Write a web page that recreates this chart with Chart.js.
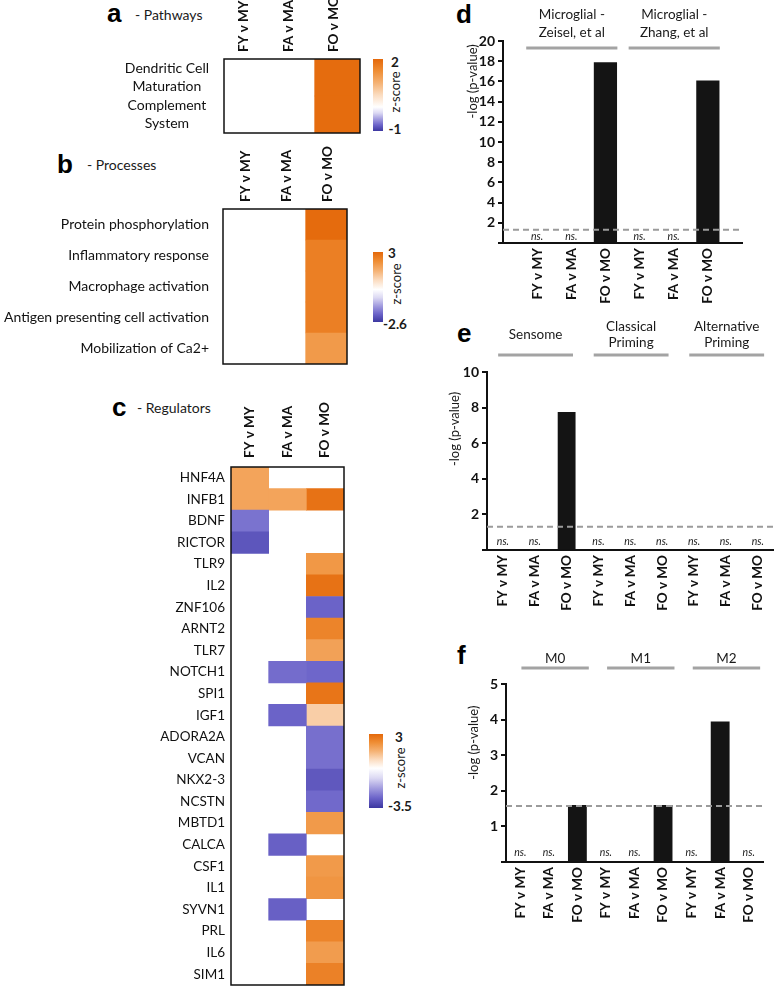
<!DOCTYPE html>
<html><head><meta charset="utf-8">
<script src="https://cdn.jsdelivr.net/npm/chart.js@4.4.1/dist/chart.umd.min.js"></script>
<style>
html,body{margin:0;padding:0;background:#fff;}
body{width:779px;height:986px;position:relative;overflow:hidden;font-family:Lato,"DejaVu Sans",sans-serif;color:#1a1a1a;}
canvas{position:absolute;}
.t{position:absolute;white-space:nowrap;line-height:1;}
.L{font-family:"Liberation Sans",Arial,sans-serif;font-weight:bold;font-size:26px;color:#000;}
.s{font-size:14px;}
.cb{position:absolute;}
.cl{position:absolute;font-size:13.5px;font-weight:bold;transform:translate(-50%,-50%);white-space:nowrap;}
.zs{position:absolute;font-size:13px;transform:translate(-50%,-50%) rotate(-90deg);white-space:nowrap;}
</style></head>
<body>
<div class="t L" style="left:107px;top:0px;">a</div>
<div class="t s" style="left:135px;top:8px;">- Pathways</div>
<div class="t L" style="left:57px;top:151px;">b</div>
<div class="t s" style="left:87px;top:158px;">- Processes</div>
<div class="t L" style="left:112px;top:394px;">c</div>
<div class="t s" style="left:137px;top:401px;">- Regulators</div>
<div class="t L" style="left:456px;top:1px;">d</div>
<div class="t L" style="left:457px;top:320px;">e</div>
<div class="t L" style="left:457px;top:642px;">f</div>

<div id="cbA" class="cb" style="left:373px;top:59px;width:10px;height:72px;"></div>
<div class="cl" style="left:395px;top:62px;">2</div>
<div class="zs" style="left:395px;top:92px;">z-score</div>
<div class="cl" style="left:395px;top:129px;">-1</div>

<div id="cbB" class="cb" style="left:373px;top:252px;width:10px;height:70px;"></div>
<div class="cl" style="left:392px;top:253px;">3</div>
<div class="zs" style="left:396px;top:284px;">z-score</div>
<div class="cl" style="left:395px;top:324px;">-2.6</div>

<div id="cbC" class="cb" style="left:369px;top:734px;width:14px;height:74px;"></div>
<div class="cl" style="left:399px;top:737px;">3</div>
<div class="zs" style="left:400px;top:768px;">z-score</div>
<div class="cl" style="left:400px;top:806px;">-3.5</div>

<canvas id="ha" width="372" height="140" style="left:0;top:0;"></canvas>
<canvas id="hb" width="360" height="230" style="left:0;top:140px;"></canvas>
<canvas id="hc" width="360" height="606" style="left:0;top:380px;"></canvas>
<canvas id="bd" width="339" height="315" style="left:440px;top:0;"></canvas>
<canvas id="be" width="349" height="320" style="left:430px;top:315px;"></canvas>
<canvas id="bf" width="339" height="346" style="left:440px;top:640px;"></canvas>

<script>
// ---------------- DATA ----------------
const heatColumns = ['FY v MY', 'FA v MA', 'FO v MO'];

const pathwayRows = [['Dendritic Cell', 'Maturation'], ['Complement', 'System']];
const pathwayFY = [null, null];
const pathwayFA = [null, null];
const pathwayFO = [1.95, 1.95];

const processRows = ['Protein phosphorylation', 'Inflammatory response', 'Macrophage activation',
  'Antigen presenting cell activation', 'Mobilization of Ca2+'];
const processFY = [null, null, null, null, null];
const processFA = [null, null, null, null, null];
const processFO = [2.95, 2.55, 2.55, 2.55, 2.0];

const regulatorRows = ['HNF4A', 'INFB1', 'BDNF', 'RICTOR', 'TLR9', 'IL2', 'ZNF106', 'ARNT2', 'TLR7',
  'NOTCH1', 'SPI1', 'IGF1', 'ADORA2A', 'VCAN', 'NKX2-3', 'NCSTN', 'MBTD1', 'CALCA', 'CSF1', 'IL1',
  'SYVN1', 'PRL', 'IL6', 'SIM1'];
const regulatorFY = [1.8, 1.8, -2.4, -2.9, null, null, null, null, null, null, null, null, null, null,
  null, null, null, null, null, null, null, null, null, null];
const regulatorFA = [null, 1.8, null, null, null, null, null, null, null, -2.5, null, -2.65, null, null,
  null, null, null, -2.7, null, null, -2.7, null, null, null];
const regulatorFO = [null, 2.8, null, null, 2.05, 2.8, -2.65, 2.45, 1.85, -2.6, 2.75, 1.0, -2.45, -2.45,
  -2.85, -2.55, 2.0, null, 2.0, 2.1, null, 2.45, 1.95, 2.5];

const pathwayRange = [-1, 2];
const processRange = [-2.6, 3];
const regulatorRange = [-3.5, 3];

const barCategories = ['FY v MY', 'FA v MA', 'FO v MO'];

const microgliaGroups = [['Microglial -', 'Zeisel, et al'], ['Microglial -', 'Zhang, et al']];
const microgliaValues = [0, 0, 17.9, 0, 0, 16.1];
const microgliaThreshold = 1.3;

const primingGroups = [['Sensome'], ['Classical', 'Priming'], ['Alternative', 'Priming']];
const primingValues = [0, 0, 7.75, 0, 0, 0, 0, 0, 0];
const primingThreshold = 1.3;

const macrophageGroups = [['M0'], ['M1'], ['M2']];
const macrophageValues = [0, 0, 1.6, 0, 0, 1.6, 0, 3.95, 0];
const macrophageThreshold = 1.57;

const yTitle = '-log (p-value)';

// ---------------- COLOURS ----------------
const posStops = [[0, '#ffffff'], [0.25, '#fbdcc0'], [0.5, '#f5b274'], [0.75, '#ef8e35'], [1, '#e4680a']];
const negStops = [[0, '#ffffff'], [0.25, '#dcd9f3'], [0.5, '#a39ddf'], [0.75, '#6c64c9'], [1, '#3c37a0']];
function hex2rgb(h) { return [1, 3, 5].map(i => parseInt(h.substr(i, 2), 16)); }
function fromStops(stops, t) {
  for (let i = 1; i < stops.length; i++) {
    if (t <= stops[i][0]) {
      const [t0, c0] = stops[i - 1], [t1, c1] = stops[i];
      const f = (t - t0) / (t1 - t0);
      const a = hex2rgb(c0), b = hex2rgb(c1);
      return 'rgb(' + a.map((x, k) => Math.round(x + (b[k] - x) * f)).join(',') + ')';
    }
  }
  return stops[stops.length - 1][1];
}
function cmap(v, range) {
  if (v >= 0) return fromStops(posStops, Math.min(v / range[1], 1));
  return fromStops(negStops, Math.min(v / range[0], 1));
}
function gradientCss(range) {
  const span = range[1] - range[0];
  const parts = [];
  posStops.slice().reverse().forEach(([t, c]) => parts.push(c + ' ' + ((range[1] - t * range[1]) / span * 100).toFixed(1) + '%'));
  negStops.slice(1).forEach(([t, c]) => parts.push(c + ' ' + ((range[1] + t * -range[0]) / span * 100).toFixed(1) + '%'));
  return 'linear-gradient(to bottom,' + parts.join(',') + ')';
}
document.getElementById('cbA').style.background = gradientCss(pathwayRange);
document.getElementById('cbB').style.background = gradientCss(processRange);
document.getElementById('cbC').style.background = gradientCss(regulatorRange);

const FONT = 'Lato, "DejaVu Sans", sans-serif';

// ---------------- HEATMAPS ----------------
const framePlugin = {
  id: 'frame',
  afterDraw(chart) {
    const a = chart.chartArea, ctx = chart.ctx;
    ctx.save(); ctx.strokeStyle = '#111'; ctx.lineWidth = 1.5;
    ctx.strokeRect(a.left, a.top, a.right - a.left, a.bottom - a.top);
    ctx.restore();
  }
};

function heatmap(id, rows, cols, range, g) {
  const datasets = cols.map((vals, c) => ({
    data: vals.map(v => v == null ? null : [c, c + 1]),
    backgroundColor: vals.map(v => v == null ? 'rgba(0,0,0,0)' : cmap(v, range)),
    borderWidth: 0, grouped: false, categoryPercentage: 1, barPercentage: 1
  }));
  new Chart(document.getElementById(id), {
    type: 'bar',
    data: { labels: rows, datasets },
    options: {
      indexAxis: 'y', animation: false, responsive: false, events: [],
      layout: { padding: { top: 0, left: 0, right: g.right, bottom: g.bottom } },
      plugins: { legend: { display: false }, tooltip: { enabled: false } },
      scales: {
        x: {
          type: 'linear', position: 'top', min: 0, max: heatColumns.length,
          afterBuildTicks: ax => { ax.ticks = heatColumns.map((_, i) => ({ value: i + 0.5 })); },
          ticks: { autoSkip: false, maxRotation: 90, minRotation: 90, padding: g.colPad, labelOffset: g.colShift,
            callback: v => heatColumns[Math.floor(v)], font: { family: FONT, size: 13.5, weight: 'bold' }, color: '#111' },
          grid: { display: false, drawTicks: false }, border: { display: false },
          afterFit: s => { s.height = g.xH; s.paddingLeft = 0; s.paddingRight = 0; }
        },
        y: {
          type: 'category',
          ticks: { crossAlign: g.cross, padding: g.rowPad, autoSkip: false,
            font: { family: FONT, size: g.rowFont, lineHeight: 1.3 }, color: '#111' },
          grid: { display: false, drawTicks: false }, border: { display: false },
          afterFit: s => { s.width = g.yW; s.paddingTop = 0; s.paddingBottom = 0; }
        }
      }
    },
    plugins: [framePlugin]
  });
}

heatmap('ha', pathwayRows, [pathwayFY, pathwayFA, pathwayFO], pathwayRange,
  { right: 12, bottom: 7, xH: 59, yW: 224, cross: 'center', rowPad: 15, colPad: 7, colShift: 13, rowFont: 14 });
heatmap('hb', processRows, [processFY, processFA, processFO], processRange,
  { right: 13, bottom: 6, xH: 69, yW: 223, cross: 'near', rowPad: 14, colPad: 7, colShift: 18, rowFont: 14 });
heatmap('hc', regulatorRows, [regulatorFY, regulatorFA, regulatorFO], regulatorRange,
  { right: 16, bottom: 1, xH: 87, yW: 231, cross: 'near', rowPad: 6, colPad: 9, colShift: 16, rowFont: 13.5 });

// ---------------- BAR CHARTS ----------------
function barChart(id, groups, values, threshold, g) {
  const cats = [];
  groups.forEach(() => barCategories.forEach(c => cats.push(c)));
  const labels = g.padEnds ? [''].concat(cats, ['']) : cats;
  const data = g.padEnds ? [null].concat(values, [null]) : values;
  const extra = {
    id: 'extras',
    afterDatasetsDraw(chart) {
      const ctx = chart.ctx, xs = chart.scales.x, ys = chart.scales.y, a = chart.chartArea;
      const sp = xs.getPixelForValue(1) - xs.getPixelForValue(0);
      ctx.save();
      // threshold
      const ty = ys.getPixelForValue(threshold);
      ctx.strokeStyle = '#9b9b9b'; ctx.lineWidth = 2; ctx.setLineDash([6, 4]);
      ctx.beginPath(); ctx.moveTo(a.left, ty); ctx.lineTo(a.right, ty); ctx.stroke();
      ctx.setLineDash([]);
      // ns labels
      ctx.fillStyle = '#222'; ctx.font = 'italic 10.5px ' + FONT; ctx.textAlign = 'center'; ctx.textBaseline = 'alphabetic';
      data.forEach((v, i) => { if (v === 0) ctx.fillText('ns.', xs.getPixelForValue(i), a.bottom - g.nsGap); });
      // group headers
      const off = g.padEnds ? 1 : 0;
      const maxLines = Math.max(...groups.map(x => x.length));
      const lineY = a.top + g.lineDy;
      const blockC = lineY - g.textGap - (maxLines - 1) * g.lh / 2;
      groups.forEach((lines, k) => {
        const x0 = xs.getPixelForValue(off + k * 3) + g.lFrac * sp;
        const x1 = xs.getPixelForValue(off + k * 3 + 2) + g.rFrac * sp;
        ctx.strokeStyle = '#a3a3a3'; ctx.lineWidth = 3;
        ctx.beginPath(); ctx.moveTo(x0, lineY); ctx.lineTo(x1, lineY); ctx.stroke();
        ctx.fillStyle = '#1a1a1a'; ctx.font = '13.5px ' + FONT; ctx.textBaseline = 'middle';
        lines.forEach((t, j) => ctx.fillText(t, (x0 + x1) / 2, blockC + (j - (lines.length - 1) / 2) * g.lh));
      });
      // y title
      ctx.translate(g.titleX, a.top + g.titleFrac * (a.bottom - a.top));
      ctx.rotate(-Math.PI / 2);
      ctx.fillStyle = '#1a1a1a'; ctx.font = '13px ' + FONT; ctx.textBaseline = 'middle';
      ctx.fillText(yTitle, 0, 0);
      ctx.restore();
    }
  };
  new Chart(document.getElementById(id), {
    type: 'bar',
    data: { labels, datasets: [{ data, backgroundColor: '#141414', borderWidth: 0, barPercentage: g.barPct, categoryPercentage: 1 }] },
    options: {
      animation: false, responsive: false, events: [],
      layout: { padding: { top: g.top, right: g.right, left: 0, bottom: 0 } },
      plugins: { legend: { display: false }, tooltip: { enabled: false } },
      scales: {
        x: {
          offset: !g.padEnds,
          grid: { display: false, drawTicks: false },
          border: { display: true, color: '#111', width: 2 },
          ticks: { autoSkip: false, maxRotation: 90, minRotation: 90, padding: 5,
            font: { family: FONT, size: 13.5, weight: 'bold' }, color: '#111' },
          afterFit: s => { s.height = g.xH; }
        },
        y: {
          min: 0, max: g.ymax,
          ticks: { stepSize: g.step, padding: 3, callback: v => v === 0 ? '' : v,
            font: { family: FONT, size: 14, weight: 'bold' }, color: '#111' },
          grid: { drawOnChartArea: false, drawTicks: true, tickLength: 5, color: '#111', lineWidth: 2 },
          border: { display: true, color: '#111', width: 2 },
          afterFit: s => { s.width = g.yW; }
        }
      }
    },
    plugins: [extra]
  });
}

barChart('bd', microgliaGroups, microgliaValues, microgliaThreshold,
  { padEnds: true, barPct: 0.68, top: 41, right: 37, yW: 63, xH: 72, ymax: 20, step: 2,
    nsGap: 3, lineDy: 7, textGap: 15, lh: 18, lFrac: -0.32, rFrac: 0.35, titleX: 33, titleFrac: 0.2 });
barChart('be', primingGroups, primingValues, primingThreshold,
  { padEnds: false, barPct: 0.56, top: 57, right: 1, yW: 57, xH: 85, ymax: 10, step: 2,
    nsGap: 5, lineDy: -17, textGap: 12, lh: 16, lFrac: -0.15, rFrac: 0.2, titleX: 25, titleFrac: 0.32 });
barChart('bf', macrophageGroups, macrophageValues, macrophageThreshold,
  { padEnds: false, barPct: 0.66, top: 44, right: 16, yW: 66, xH: 124, ymax: 5, step: 1,
    nsGap: 6, lineDy: -16, textGap: 9, lh: 16, lFrac: 0.04, rFrac: 0.4, titleX: 34, titleFrac: 0.33 });
</script>
</body></html>
